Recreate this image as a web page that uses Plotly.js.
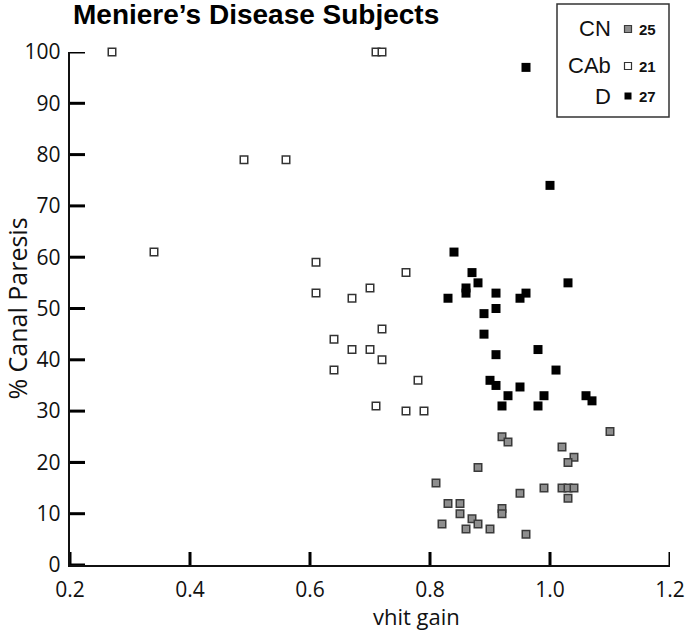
<!DOCTYPE html>
<html>
<head>
<meta charset="utf-8">
<script src="https://cdn.plot.ly/plotly-3.0.1.min.js"></script>
<style>
  html, body { margin: 0; padding: 0; background: #fff; }
  #chart { width: 685px; height: 638px; }
</style>
</head>
<body>
<div id="chart"></div>
<script>
// ---- data ----
const cnX  = [0.92, 0.93, 1.02, 1.04, 1.03, 0.88, 0.81, 0.95, 0.99, 1.02, 1.03, 1.04, 1.03, 0.83, 0.85, 0.85, 0.92, 0.92, 0.87, 0.88, 0.82, 0.86, 0.90, 0.96, 1.10];
const cnY  = [25, 24, 23, 21, 20, 19, 16, 14, 15, 15, 15, 15, 13, 12, 12, 10, 11, 10, 9, 8, 8, 7, 7, 6, 26];

const cabX = [0.27, 0.71, 0.72, 0.49, 0.56, 0.34, 0.61, 0.76, 0.70, 0.61, 0.67, 0.72, 0.64, 0.67, 0.70, 0.72, 0.64, 0.78, 0.71, 0.76, 0.79];
const cabY = [100, 100, 100, 79, 79, 61, 59, 57, 54, 53, 52, 46, 44, 42, 42, 40, 38, 36, 31, 30, 30];

const dX   = [0.96, 1.00, 0.84, 0.87, 0.88, 1.03, 0.86, 0.86, 0.83, 0.91, 0.96, 0.95, 0.91, 0.89, 0.89, 0.98, 0.91, 1.01, 0.90, 0.91, 0.95, 0.93, 0.99, 1.06, 1.07, 0.92, 0.98];
const dY   = [97, 74, 61, 57, 55, 55, 54, 53, 52, 53, 53, 52, 50, 49, 45, 42, 41, 38, 36, 35, 34.7, 33, 33, 33, 32, 31, 31];

const groupNames  = ['CN', 'CAb', 'D'];
const groupCounts = [25, 21, 27];

const xTickVals = [0.2, 0.4, 0.6, 0.8, 1.0, 1.2];
const xTickText = ['0.2', '0.4', '0.6', '0.8', '1.0', '1.2'];
const yTickVals = [0, 10, 20, 30, 40, 50, 60, 70, 80, 90, 100];

// ---- styles ----
const markerStyles = [
  { symbol: 'square', size: 7.5, color: '#8e8e8e', line: { color: '#3a3a3a', width: 1.5 } },
  { symbol: 'square', size: 7.5, color: '#ffffff', line: { color: '#333333', width: 1.5 } },
  { symbol: 'square', size: 9, color: '#000000', line: { color: '#000000', width: 0 } }
];
const xs = [cnX, cabX, dX];
const ys = [cnY, cabY, dY];

const traces = groupNames.map((name, i) => ({
  type: 'scatter',
  mode: 'markers',
  name: name,
  x: xs[i],
  y: ys[i],
  marker: markerStyles[i],
  cliponaxis: false,
  showlegend: false
}));

const axisColor = '#111111';
const tickFont = { family: 'Open Sans, sans-serif', size: 21, color: '#111' };

const labelRowY  = [28, 65, 96];
const swatchRowY = [29, 66, 96];
const plotTop = 52, plotH = 513, plotL = 70, plotW = 600;
const py = p => (plotTop + plotH - p) / plotH;
const px = p => (p - plotL) / plotW;

const shapes = [{
  type: 'rect', xref: 'paper', yref: 'paper',
  x0: px(557), x1: px(669), y0: py(117), y1: py(4),
  line: { color: '#333', width: 1.5 }, fillcolor: 'rgba(0,0,0,0)'
}];
// inward tick marks at the axis tick values
const xTickLenPaper = 13 / plotH;
const yTickLenPaper = 15 / plotW;
xTickVals.forEach(v => shapes.push({
  type: 'line', xref: 'x', yref: 'paper',
  x0: v, x1: v, y0: 0, y1: xTickLenPaper, line: { color: '#000000', width: 3 }
}));
yTickVals.forEach(v => shapes.push({
  type: 'line', yref: 'y', xref: 'paper',
  y0: v, y1: v, x0: 0, x1: yTickLenPaper, line: { color: '#000000', width: 3 }
}));

const annotations = [];
groupNames.forEach((name, i) => {
  const m = markerStyles[i];
  const h = 3.5;
  shapes.push({
    type: 'rect', xref: 'paper', yref: 'paper',
    x0: px(628 - h), x1: px(628 + h), y0: py(swatchRowY[i] + h), y1: py(swatchRowY[i] - h),
    fillcolor: m.color,
    line: { color: m.line.width ? m.line.color : m.color, width: m.line.width ? 1.2 : 0 }
  });
  annotations.push({
    xref: 'paper', yref: 'paper', x: px(613), y: py(labelRowY[i]),
    xanchor: 'right', yanchor: 'middle', showarrow: false,
    text: name, font: { family: 'Liberation Sans, Arial, sans-serif', size: 22, color: '#111' }
  });
  annotations.push({
    xref: 'paper', yref: 'paper', x: px(637), y: py(swatchRowY[i]),
    xanchor: 'left', yanchor: 'middle', showarrow: false,
    text: '<b>' + groupCounts[i] + '</b>', font: { family: 'Liberation Sans, Arial, sans-serif', size: 15, color: '#111' }
  });
});
annotations.push({
  xref: 'paper', yref: 'paper', x: px(416), y: py(616),
  xanchor: 'center', yanchor: 'middle', showarrow: false,
  text: 'vhit gain', font: { family: 'Open Sans, sans-serif', size: 22, color: '#111' }
});

const layout = {
  width: 685, height: 638,
  paper_bgcolor: '#ffffff', plot_bgcolor: '#ffffff',
  margin: { l: plotL, r: 685 - plotL - plotW, t: plotTop, b: 638 - plotTop - plotH, pad: 0 },
  showlegend: false,
  title: {
    text: '<b>Meniere’s Disease Subjects</b>',
    font: { family: 'Liberation Sans, Arial, sans-serif', size: 28, color: '#000' },
    xref: 'paper', x: px(73), xanchor: 'left',
    yref: 'container', y: 1 - 14 / 638, yanchor: 'middle'
  },
  xaxis: {
    range: [0.2, 1.2], tickmode: 'array', tickvals: xTickVals, ticktext: xTickText,
    ticks: 'inside', ticklen: 13, tickwidth: 2.2, tickcolor: axisColor,
    showline: true, linecolor: axisColor, linewidth: 2.2,
    showgrid: false, zeroline: false, tickfont: tickFont, ticklabelstandoff: 5
  },
  yaxis: {
    range: [0, 100], tickmode: 'array', tickvals: yTickVals,
    ticks: 'inside', ticklen: 15, tickwidth: 2.2, tickcolor: axisColor,
    showline: true, linecolor: axisColor, linewidth: 2.2,
    showgrid: false, zeroline: false, tickfont: tickFont, ticklabelstandoff: 3,
    title: { text: '% Canal Paresis', font: { family: 'Open Sans, sans-serif', size: 25, color: '#111' }, standoff: 4 }
  },
  shapes: shapes,
  annotations: annotations
};

Plotly.newPlot('chart', traces, layout, { displayModeBar: false, staticPlot: true });
</script>
</body>
</html>
